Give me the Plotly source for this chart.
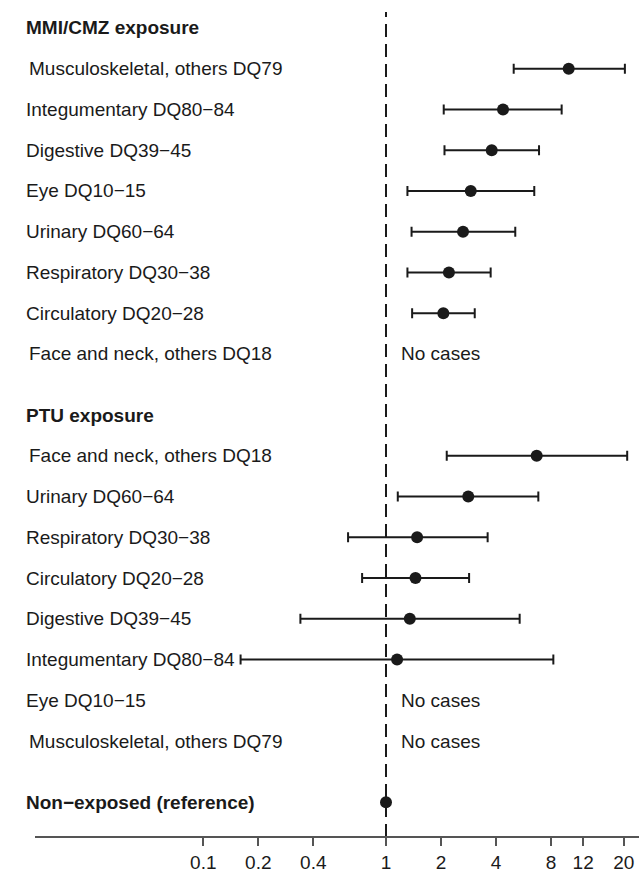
import math
import plotly.graph_objects as go

# ---------------- data ----------------
mmi_header = "MMI/CMZ exposure"
mmi_labels = ["Musculoskeletal, others DQ79", "Integumentary DQ80−84", "Digestive DQ39−45",
              "Eye DQ10−15", "Urinary DQ60−64", "Respiratory DQ30−38",
              "Circulatory DQ20−28", "Face and neck, others DQ18"]
mmi_or = [10.0, 4.37, 3.79, 2.91, 2.64, 2.21, 2.06, None]
mmi_lo = [5.0, 2.07, 2.09, 1.31, 1.38, 1.31, 1.39, None]
mmi_hi = [20.3, 9.15, 6.88, 6.48, 5.10, 3.74, 3.06, None]

ptu_header = "PTU exposure"
ptu_labels = ["Face and neck, others DQ18", "Urinary DQ60−64", "Respiratory DQ30−38",
              "Circulatory DQ20−28", "Digestive DQ39−45", "Integumentary DQ80−84",
              "Eye DQ10−15", "Musculoskeletal, others DQ79"]
ptu_or = [6.68, 2.82, 1.48, 1.45, 1.35, 1.15, None, None]
ptu_lo = [2.15, 1.16, 0.62, 0.74, 0.34, 0.16, None, None]
ptu_hi = [20.9, 6.82, 3.60, 2.85, 5.39, 8.24, None, None]

ref_label = "Non−exposed (reference)"
ref_or = [1.0]

no_cases_text = "No cases"
tick_vals = [0.1, 0.2, 0.4, 1, 2, 4, 8, 12, 20]
tick_text = ["0.1", "0.2", "0.4", "1", "2", "4", "8", "12", "20"]

# ---------------- layout helpers ----------------
W, H = 639, 873
FONT = "Liberation Sans, Arial, Helvetica, sans-serif"
FS = 19
INK = "#1a1a1a"

# row positions (row units, increasing downward)
mmi_rows = [1 + i for i in range(len(mmi_labels))]
ptu_head_row = mmi_rows[-1] + 1.5
ptu_rows = [ptu_head_row + 1 + i for i in range(len(ptu_labels))]
ref_row = ptu_rows[-1] + 1.5

ROW0_PX = 28.0
ROW_PX = 40.9
AXIS_PX = 840.0
y_top = (0 - ROW0_PX) / ROW_PX
y_bot = (AXIS_PX - ROW0_PX) / ROW_PX

PX_PER_DEC = 182.7
ONE_PX = 386.0
x_lo = -ONE_PX / PX_PER_DEC
x_hi = (W - ONE_PX) / PX_PER_DEC

fig = go.Figure()

def add_series(rows, est, lo, hi):
    ys, xs, ep, em = [], [], [], []
    for r, e, l, h in zip(rows, est, lo, hi):
        if e is None:
            continue
        ys.append(r); xs.append(e); ep.append(h - e); em.append(e - l)
    fig.add_trace(go.Scatter(
        x=xs, y=ys, mode="markers",
        marker=dict(size=12, color=INK),
        error_x=dict(type="data", symmetric=False, array=ep, arrayminus=em,
                     color=INK, thickness=2, width=5),
        showlegend=False, hoverinfo="skip"))

add_series(mmi_rows, mmi_or, mmi_lo, mmi_hi)
add_series(ptu_rows, ptu_or, ptu_lo, ptu_hi)
fig.add_trace(go.Scatter(x=ref_or, y=[ref_row], mode="markers",
                         marker=dict(size=12, color=INK), showlegend=False,
                         hoverinfo="skip"))

ann = []
def label(text, row, bold=False):
    indent = 3 if "," in text else 0
    ann.append(dict(xref="paper", yref="y", x=24 / W, y=row, xanchor="left",
                    yanchor="middle", xshift=indent, showarrow=False,
                    text=f"<b>{text}</b>" if bold else text,
                    font=dict(family=FONT, size=FS, color=INK)))

def nocases(row):
    ann.append(dict(xref="x", yref="y", x=0, y=row, xanchor="left",
                    yanchor="middle", xshift=13, showarrow=False,
                    text=no_cases_text,
                    font=dict(family=FONT, size=FS, color=INK)))

label(mmi_header, 0, bold=True)
for r, t, e in zip(mmi_rows, mmi_labels, mmi_or):
    label(t, r)
    if e is None:
        nocases(r)
label(ptu_header, ptu_head_row, bold=True)
for r, t, e in zip(ptu_rows, ptu_labels, ptu_or):
    label(t, r)
    if e is None:
        nocases(r)
label(ref_label, ref_row, bold=True)

shapes = [
    # dashed reference line at OR = 1
    dict(type="line", xref="x", yref="paper", x0=1, x1=1, y0=0,
         y1=(AXIS_PX - 12) / AXIS_PX, line=dict(color=INK, width=2, dash="13px,7px")),
    # axis line
    dict(type="line", xref="paper", yref="paper", x0=35 / W, x1=1, y0=0, y1=0,
         line=dict(color="#555555", width=2)),
]

fig.update_layout(
    width=W, height=H,
    margin=dict(l=0, r=0, t=0, b=H - AXIS_PX),
    paper_bgcolor="white", plot_bgcolor="white",
    annotations=ann, shapes=shapes,
    xaxis=dict(type="log", range=[x_lo, x_hi], showgrid=False, zeroline=False,
               showline=False, tickvals=tick_vals, ticktext=tick_text,
               ticks="outside", ticklen=8, tickwidth=1.5, tickcolor="#555555",
               tickfont=dict(family=FONT, size=FS, color=INK), fixedrange=True),
    yaxis=dict(range=[y_bot, y_top], showgrid=False, zeroline=False,
               showticklabels=False, showline=False, fixedrange=True),
)

fig.write_html("out.html", config={"displayModeBar": False},
               post_script="document.body.style.margin='0px';document.body.style.overflow='hidden';")
